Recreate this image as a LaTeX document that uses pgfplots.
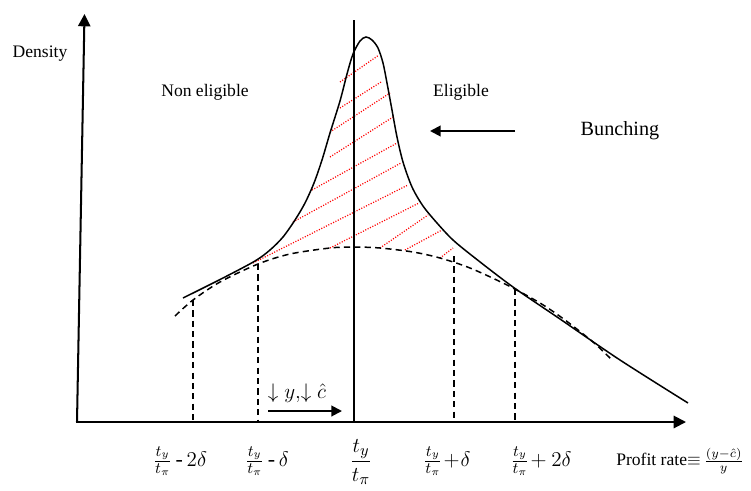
\documentclass[border=0pt]{standalone}
\usepackage{amsmath}
\usepackage{pgfplots}
\pgfplotsset{compat=1.18}
\usepackage{fontspec}
\setmainfont{Liberation Serif}
\usetikzlibrary{arrows.meta}

% curve shapes, in pixel units (y grows downward)
\pgfplotstableread{
x y
183 298
223 278
255 261
270 250
283 237
295 220
305 203
314 183
322 160
330 133
340 101
347 74
353 54
360 41
366 37
372 40
378 48
383 63
387 83
392 110
397 137
403 162
412 187
423 206
437 223
453 240
475 258
513 287
560 319
620 360
688 403
}\bunched

\pgfplotstableread{
x y
175 316
193 300
220 282
258 264
290 254
330 248
354 247
380 248
413 252
440 258
470 268
507 285
540 303
565 320
593 342
612 360
}\counterfactual

\begin{document}
\begin{tikzpicture}
\begin{axis}[
  width=15.02cm,height=9.76cm,scale only axis,
  xmin=0,xmax=751,ymin=0,ymax=488,y dir=reverse,
  hide axis,clip=false,
  every node/.style={font=\fontsize{10.5}{12}\selectfont}
]
% frame the page
\addplot[draw=none] coordinates {(0,0) (751,488)};

% axes
\addplot[line width=1.15pt,-{Triangle[length=7pt,width=7pt]}] coordinates {(77,422) (84.5,14)};
\addplot[line width=1.15pt,-{Triangle[length=7pt,width=7pt]}] coordinates {(76,422) (686,422)};

% hatching of the bunching mass
\addplot[red,line width=0.7pt,dash pattern=on 0.6pt off 0.9pt,unbounded coords=jump] coordinates {
  (340,82) (379,55) (nan,nan)
  (340,108) (381,82) (nan,nan)
  (330,132) (390,93) (nan,nan)
  (330,157) (393,117) (nan,nan)
  (312,190) (397,143) (nan,nan)
  (293,222) (401,163) (nan,nan)
  (253,263) (408,185) (nan,nan)
  (330,248) (419,203) (nan,nan)
  (380,248) (428,215) (nan,nan)
  (405,250) (442,230) (nan,nan)
  (440,258) (453,248)
};

% counterfactual density
\addplot[black,line width=0.85pt,dash pattern=on 3.5pt off 2.4pt,smooth] table {\counterfactual};
% observed density
\addplot[black,line width=0.85pt,smooth] table {\bunched};

% t_y / t_pi
\addplot[black,line width=0.85pt] coordinates {(354,20) (354,422)};

% bounds of the excluded window
\addplot[black,line width=0.85pt,dash pattern=on 3.5pt off 2.4pt] coordinates {(193,300) (193,422)};
\addplot[black,line width=0.85pt,dash pattern=on 3.5pt off 2.4pt] coordinates {(258,264) (258,422)};
\addplot[black,line width=0.85pt,dash pattern=on 3.5pt off 2.4pt] coordinates {(454,256) (454,422)};
\addplot[black,line width=0.85pt,dash pattern=on 3.5pt off 2.4pt] coordinates {(515,289) (515,422)};

% arrows
\addplot[line width=1.1pt,-{Triangle[length=6pt,width=6pt]}] coordinates {(515,131) (430,131)};
\addplot[line width=1.1pt,-{Triangle[length=6pt,width=6pt]}] coordinates {(268,411) (342,411)};

% texts
\node at (axis cs:40,54) {Density};
\node at (axis cs:205,92) {Non eligible};
\node at (axis cs:461,92) {Eligible};
\node[font=\fontsize{11.5}{13}\selectfont] at (axis cs:620,131) {Bunching};
\node[font=\fontsize{11.5}{13}\selectfont] at (axis cs:297,393) {$\downarrow y,\!\downarrow\hat{c}$};

\node[font=\fontsize{12.5}{14}\selectfont] at (axis cs:180,461) {$\frac{t_y}{t_\pi}$\,-\,$2\delta$};
\node[font=\fontsize{12.5}{14}\selectfont] at (axis cs:267,461) {$\frac{t_y}{t_\pi}$\,-\,$\delta$};
\node[font=\fontsize{13}{15}\selectfont] at (axis cs:361,462) {$\dfrac{t_y}{t_\pi}$};
\node[font=\fontsize{12.5}{14}\selectfont] at (axis cs:447,461) {$\frac{t_y}{t_\pi}\!+\!\delta$};
\node[font=\fontsize{12.5}{14}\selectfont] at (axis cs:541,461) {$\frac{t_y}{t_\pi}\!+2\delta$};
\node at (axis cs:680,461) {Profit rate$\equiv$\,$\frac{(y-\hat{c})}{y}$};
\end{axis}
\end{tikzpicture}
\end{document}
